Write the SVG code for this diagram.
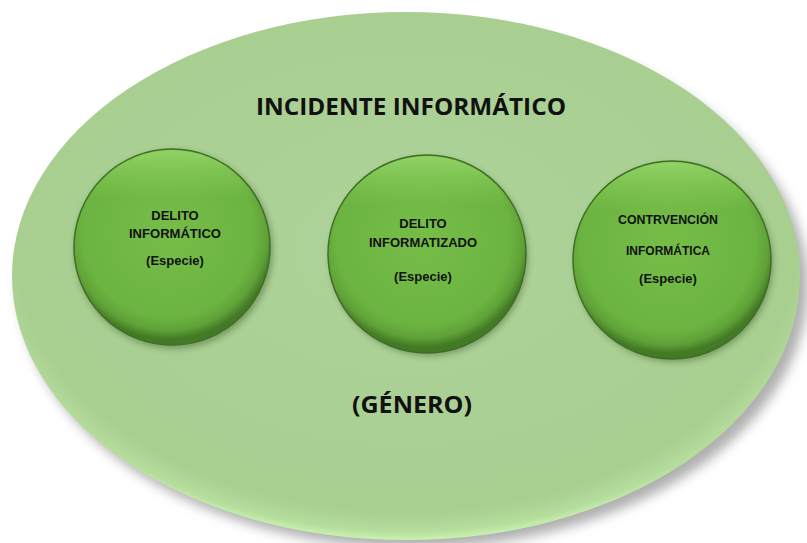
<svg xmlns="http://www.w3.org/2000/svg" width="807" height="543" viewBox="0 0 807 543">
<defs>
  <radialGradient id="bigFill" cx="50%" cy="45%" r="55%">
    <stop offset="0" stop-color="#afd39b"/>
    <stop offset="0.9" stop-color="#a8ce90"/>
    <stop offset="0.97" stop-color="#b5dd9c"/>
    <stop offset="1" stop-color="#c9f2b0"/>
  </radialGradient>
  <radialGradient id="circFill" cx="48%" cy="42%" r="55%">
    <stop offset="0" stop-color="#76bd48"/>
    <stop offset="0.8" stop-color="#6cb441"/>
    <stop offset="0.92" stop-color="#5fa137"/>
    <stop offset="1" stop-color="#437a26"/>
  </radialGradient>
  <linearGradient id="circHi" x1="0" y1="0" x2="0" y2="1">
    <stop offset="0" stop-color="#b8f08a" stop-opacity="0.5"/>
    <stop offset="0.25" stop-color="#9be06a" stop-opacity="0"/>
  </linearGradient>
  <filter id="bigShadow" x="-10%" y="-10%" width="120%" height="125%">
    <feGaussianBlur stdDeviation="6"/>
  </filter>
  <filter id="circShadow" x="-20%" y="-20%" width="140%" height="140%">
    <feGaussianBlur stdDeviation="3"/>
  </filter>
</defs>
<style>
  .big-title { font-family: "Open Sans", "Liberation Sans", sans-serif; font-weight: bold; font-size: 23px; fill: #111; }
  .small { font-family: "Liberation Sans", Arial, sans-serif; font-weight: bold; font-size: 13px; fill: #111; }
  .circ { fill: url(#circFill); stroke: #3f6f25; stroke-width: 1.5; }
  .circ-hi { fill: url(#circHi); }
  .circ-shadow { fill: #2c4a1a; opacity: 0.4; filter: url(#circShadow); }
</style>
<rect width="807" height="543" fill="#ffffff"/>
<g id="incidente">
  <ellipse cx="414" cy="286" rx="394" ry="262" fill="#6e6e6e" opacity="0.55" filter="url(#bigShadow)"/>
  <ellipse cx="406" cy="276" rx="394" ry="264" fill="url(#bigFill)"/>
  <text class="big-title" x="411" y="115" text-anchor="middle" textLength="310" lengthAdjust="spacingAndGlyphs">INCIDENTE INFORMÁTICO</text>
  <text class="big-title" x="412" y="413" text-anchor="middle" textLength="120" lengthAdjust="spacingAndGlyphs">(GÉNERO)</text>
</g>
<g id="delito-informatico">
  <circle class="circ-shadow" cx="174" cy="250" r="99"/>
  <circle class="circ" cx="172" cy="247" r="98"/>
  <circle class="circ-hi" cx="172" cy="247" r="97"/>
  <text class="small" x="175" y="220" text-anchor="middle">DELITO</text>
  <text class="small" x="175" y="238" text-anchor="middle" textLength="92" lengthAdjust="spacingAndGlyphs">INFORMÁTICO</text>
  <text class="small" x="175" y="265" text-anchor="middle">(Especie)</text>
</g>
<g id="delito-informatizado">
  <circle class="circ-shadow" cx="429" cy="257" r="99"/>
  <circle class="circ" cx="427" cy="254" r="99"/>
  <circle class="circ-hi" cx="427" cy="254" r="98"/>
  <text class="small" x="423" y="228" text-anchor="middle">DELITO</text>
  <text class="small" x="423" y="247" text-anchor="middle" textLength="108" lengthAdjust="spacingAndGlyphs">INFORMATIZADO</text>
  <text class="small" x="423" y="281" text-anchor="middle">(Especie)</text>
</g>
<g id="contravencion-informatica">
  <circle class="circ-shadow" cx="674" cy="263" r="99"/>
  <circle class="circ" cx="672" cy="260" r="99"/>
  <circle class="circ-hi" cx="672" cy="260" r="98"/>
  <text class="small" x="668" y="224" text-anchor="middle" textLength="100" lengthAdjust="spacingAndGlyphs">CONTRVENCIÓN</text>
  <text class="small" x="668" y="255" text-anchor="middle" textLength="84" lengthAdjust="spacingAndGlyphs">INFORMÁTICA</text>
  <text class="small" x="668" y="283" text-anchor="middle">(Especie)</text>
</g>
<g id="connectors"/>
</svg>
